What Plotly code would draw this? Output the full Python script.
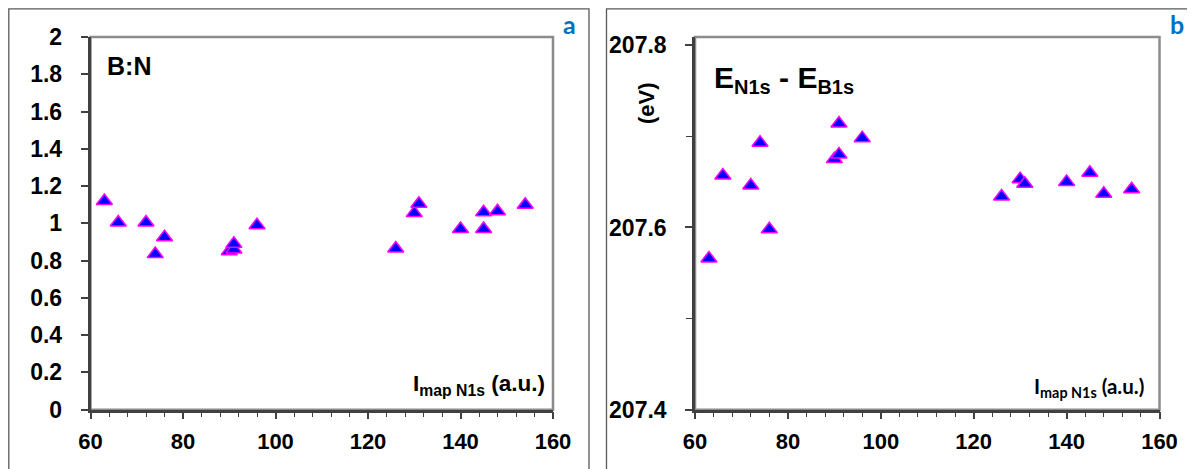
import plotly.graph_objects as go

# ---- data ----
x_a = [63, 66, 72, 74, 76, 90, 91, 91, 96, 126, 130, 131, 140, 145, 145, 148, 154]
bn_ratio = [1.12, 1.005, 1.005, 0.835, 0.925, 0.85, 0.86, 0.89, 0.99, 0.865,
            1.055, 1.105, 0.97, 1.06, 0.97, 1.065, 1.10]

x_b = [63, 66, 72, 74, 76, 90, 91, 91, 96, 126, 130, 131, 140, 145, 148, 154]
e_diff = [207.566, 207.657, 207.646, 207.693, 207.598, 207.675, 207.680, 207.714,
          207.698, 207.634, 207.653, 207.648, 207.650, 207.660, 207.637, 207.642]

x_ticks = [60, 80, 100, 120, 140, 160]
ya_ticks = [0, 0.2, 0.4, 0.6, 0.8, 1, 1.2, 1.4, 1.6, 1.8, 2]
ya_labels = ["0", "0.2", "0.4", "0.6", "0.8", "1", "1.2", "1.4", "1.6", "1.8", "2"]
yb_ticks = [207.4, 207.6, 207.8]
yb_labels = ["207.4", "207.6", "207.8"]

W, H = 1195, 469
OFF = 8  # page body margin offset
def px(x): return (x - OFF) / W
def py(y): return 1 - (y - OFF) / H

ARIAL = "Liberation Sans"
CAL = "Lato"
xtickfont = dict(family=ARIAL, size=22, color="black", weight="bold")
ytickfont = dict(family=ARIAL, size=23, color="black", weight="bold")

marker = dict(symbol="triangle-up", size=14, color="#0000FF",
              line=dict(color="#FF00FF", width=1.5))

fig = go.Figure()
fig.add_trace(go.Scatter(x=x_a, y=bn_ratio, mode="markers", marker=marker,
                         xaxis="x", yaxis="y", showlegend=False, hoverinfo="skip"))
fig.add_trace(go.Scatter(x=x_b, y=e_diff, mode="markers", marker=marker,
                         xaxis="x2", yaxis="y2", showlegend=False, hoverinfo="skip"))

dom_ya = [py(409.7), py(37)]
dom_xa = [px(90.5), px(553)]
dom_xb = [px(695), px(1159.5)]

def xaxis_common(domain, anchor):
    return dict(domain=domain, anchor=anchor, range=[60, 160], automargin=False,
                tickmode="array", tickvals=x_ticks, ticktext=[str(v) for v in x_ticks],
                ticks="outside", ticklen=7, tickwidth=1.5, tickcolor="#404040",
                minor=dict(tickmode="linear", tick0=60, dtick=4, ticks="outside",
                           ticklen=5, tickwidth=1.2, tickcolor="#404040"),
                showline=True, linecolor="#404040", linewidth=2.5,
                showgrid=False, zeroline=False, tickfont=xtickfont,
                ticklabelstandoff=3)

def xaxis_inner(overlay, anchor, domain):
    return dict(domain=domain, overlaying=overlay, anchor=anchor, range=[60, 160],
                automargin=False,
                tickmode="array", tickvals=x_ticks, ticks="inside", ticklen=7,
                tickwidth=1.5, tickcolor="#404040", showticklabels=False,
                showline=False, showgrid=False, zeroline=False)

layout = dict(
    width=W, height=H, margin=dict(l=0, r=0, t=0, b=0, autoexpand=False),
    paper_bgcolor="white", plot_bgcolor="white",
    xaxis=xaxis_common(dom_xa, "y"),
    xaxis2=xaxis_common(dom_xb, "y2"),
    xaxis3=xaxis_inner("x", "y", dom_xa),
    xaxis4=xaxis_inner("x2", "y2", dom_xb),
    yaxis=dict(domain=dom_ya, anchor="x", range=[0, 2], tickmode="array",
               automargin=False,
               tickvals=ya_ticks, ticktext=ya_labels, ticks="outside", ticklen=7,
               tickwidth=1.5, tickcolor="#404040", showline=True,
               linecolor="#404040", linewidth=2.5, showgrid=False, zeroline=False,
               tickfont=ytickfont, ticklabelstandoff=14),
    yaxis2=dict(domain=dom_ya, anchor="x2", range=[207.4, 207.809], tickmode="array",
                automargin=False,
                tickvals=yb_ticks, ticktext=yb_labels, ticks="outside", ticklen=7,
                tickwidth=1.5, tickcolor="#404040",
                minor=dict(tickmode="linear", tick0=207.4, dtick=0.1, ticks="outside",
                           ticklen=6, tickwidth=1.2, tickcolor="#404040"),
                showline=True, linecolor="#404040", linewidth=2.5, showgrid=False,
                zeroline=False, tickfont=ytickfont, ticklabelstandoff=14),
)
fig.update_layout(**layout)

shapes = [
    # outer panel frames
    dict(type="rect", xref="paper", yref="paper", x0=px(8.8), x1=px(589),
         y0=py(490), y1=py(8.8), line=dict(color="#595959", width=1.3), layer="below"),
    dict(type="rect", xref="paper", yref="paper", x0=px(606.5), x1=px(1215),
         y0=py(490), y1=py(8.8), line=dict(color="#595959", width=1.3), layer="below"),
    # plot area borders (gray)
    dict(type="rect", xref="x domain", yref="y domain", x0=0, x1=1, y0=0, y1=1,
         line=dict(color="#8c8c8c", width=2.5), layer="below"),
    dict(type="rect", xref="x2 domain", yref="y2 domain", x0=0, x1=1, y0=0, y1=1,
         line=dict(color="#8c8c8c", width=2.5), layer="below"),
]
fig.update_layout(shapes=shapes)

ann = [
    dict(text="B:N", x=px(105), y=py(66), xanchor="left", yanchor="middle",
         font=dict(family=ARIAL, size=25, color="black", weight="bold")),
    dict(text="E<sub><span style='font-size:20px'>N1s</span></sub> - E<sub><span style='font-size:20px'>B1s</span></sub>",
         x=px(712), y=py(80), xanchor="left", yanchor="middle",
         font=dict(family=ARIAL, size=30, color="black", weight="bold")),
    dict(text="(eV)", x=px(646), y=py(103), xanchor="center", yanchor="middle",
         textangle=-90, font=dict(family=ARIAL, size=22, color="black", weight="bold")),
    dict(text="I<sub>map N1s</sub> (a.u.)", x=px(547), y=py(385), xanchor="right",
         yanchor="middle", font=dict(family=ARIAL, size=22.5, color="black", weight="bold")),
    dict(text="I<sub>map N1s</sub> (a.u.)", x=px(1146), y=py(387), xanchor="right",
         yanchor="middle", font=dict(family=CAL, size=20.5, color="black", weight="bold")),
    dict(text="a", x=px(569), y=py(24), xanchor="center", yanchor="middle",
         font=dict(family=CAL, size=25, color="#0070C0", weight="bold")),
    dict(text="b", x=px(1177), y=py(24), xanchor="center", yanchor="middle",
         font=dict(family=CAL, size=25, color="#0070C0", weight="bold")),
]
for a in ann:
    a.update(xref="paper", yref="paper", showarrow=False)
fig.update_layout(annotations=ann)

fig.write_html("out.html")
